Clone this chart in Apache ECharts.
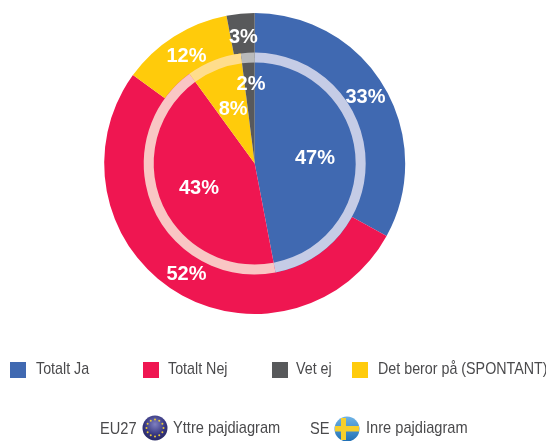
<!DOCTYPE html>
<html>
<head>
<meta charset="utf-8">
<style>html,body{margin:0;padding:0;background:#fff}#c{width:546px;height:441px}</style>
<script src="https://cdn.jsdelivr.net/npm/echarts@6/dist/echarts.min.js"></script>
</head>
<body>
<div id="c"></div>
<script>
const outerNames = ['Totalt Ja', 'Totalt Nej', 'Det beror på (SPONTANT)', 'Vet ej'];
const outerValues = [33, 52, 12, 3];
const innerValues = [47, 43, 8, 2];
const legendOrder = ['Totalt Ja', 'Totalt Nej', 'Vet ej', 'Det beror på (SPONTANT)'];
const sliceColors = ['#4069B1', '#EF1651', '#FFCB0B', '#58595B'];
const ringColors = ['#C5CCE6', '#F9C6C4', '#FFDD8C', '#B9BABB'];

const FONT = '"Liberation Sans",sans-serif';
const CENTER = [254.7, 163.5];
const legendLeft = [10, 143, 272, 352];
const legendTextLeft = [36, 168, 296, 378];
const outerLabelOffset = [[-2, 1], [2, 0], [2, 4], [1, 4]];
const innerLabelOffset = [[2, 0], [-2, 2], [0, 0], [0, -21]];
const TEXT_SCALE = 0.84;
const FOOT_SCALE = 0.86;

const chart = echarts.init(document.getElementById('c'), null, {renderer: 'canvas'});

const label = {
  show: true, position: 'inside', formatter: '{c}%',
  color: '#fff', fontFamily: FONT, fontWeight: 'bold', fontSize: 20
};
const base = {
  type: 'pie', center: CENTER, startAngle: 90, clockwise: true,
  avoidLabelOverlap: false, silent: true, animation: false,
  labelLine: {show: false}, emphasis: {disabled: true}
};
const toData = (vals, extra) => vals.map((v, i) => Object.assign({
  name: outerNames[i], value: v, itemStyle: {color: sliceColors[i]}
}, extra ? extra(i) : {}));

// flag decorations
const EU = [155, 428], SWE = [347, 429];
const euStars = [];
for (let i = 0; i < 12; i++) {
  const a = i * Math.PI / 6;
  euStars.push({
    type: 'circle', z: 12,
    shape: {cx: EU[0] + 8.5 * Math.cos(a), cy: EU[1] + 8.5 * Math.sin(a), r: 1},
    style: {fill: '#E8C93A'}
  });
}
const scaledText = (x, y, text, scale) => ({
  type: 'text', x, y, scaleX: scale, z: 10,
  style: {text, font: '17px ' + FONT, fill: '#4a4a4c', verticalAlign: 'middle', align: 'left'}
});

chart.setOption({
  backgroundColor: '#fff',
  legend: legendOrder.map((n, i) => ({
    data: [n], left: legendLeft[i], top: 362, padding: 0,
    icon: 'rect', itemWidth: 16, itemHeight: 16, itemGap: 0,
    selectedMode: false, formatter: () => ' ',
    textStyle: {fontFamily: FONT, fontSize: 12}
  })),
  series: [
    Object.assign({}, base, {
      name: 'EU27', radius: [105.5, 150.5], z: 1, label,
      data: toData(outerValues, i => ({label: {offset: outerLabelOffset[i]}}))
    }),
    Object.assign({}, base, {
      name: 'SE', radius: [0, 111], z: 2, label,
      data: toData(innerValues, i => ({label: {offset: innerLabelOffset[i]}}))
    }),
    Object.assign({}, base, {
      name: 'ring', radius: [101, 111], z: 3, label: {show: false},
      data: toData(innerValues, i => ({itemStyle: {color: ringColors[i]}}))
    })
  ],
  graphic: [
    ...legendOrder.map((n, i) => scaledText(legendTextLeft[i], 369, n, TEXT_SCALE)),
    scaledText(100, 429, 'EU27', FOOT_SCALE),
    scaledText(173, 428, 'Yttre pajdiagram', FOOT_SCALE),
    scaledText(310, 429, 'SE', FOOT_SCALE),
    scaledText(366, 428, 'Inre pajdiagram', FOOT_SCALE),
    {type: 'circle', z: 11, shape: {cx: EU[0], cy: EU[1], r: 12.5},
      style: {fill: {type: 'radial', x: 0.5, y: 0.35, r: 0.7, colorStops: [
        {offset: 0, color: '#7f80c0'}, {offset: 0.6, color: '#35357f'}, {offset: 1, color: '#27275f'}]}}},
    ...euStars,
    {type: 'circle', z: 11, shape: {cx: SWE[0], cy: SWE[1], r: 12.5},
      style: {fill: {type: 'linear', x: 0, y: 0, x2: 0, y2: 1, colorStops: [
        {offset: 0, color: '#6fb4e6'}, {offset: 1, color: '#1f6fb5'}]}}},
    {type: 'rect', z: 12, shape: {x: SWE[0] - 6, y: SWE[1] - 11, width: 5, height: 22}, style: {fill: '#F6CF2C'}},
    {type: 'rect', z: 12, shape: {x: SWE[0] - 12, y: SWE[1] - 3, width: 24, height: 5.5}, style: {fill: '#F6CF2C'}}
  ]
});
</script>
</body>
</html>
